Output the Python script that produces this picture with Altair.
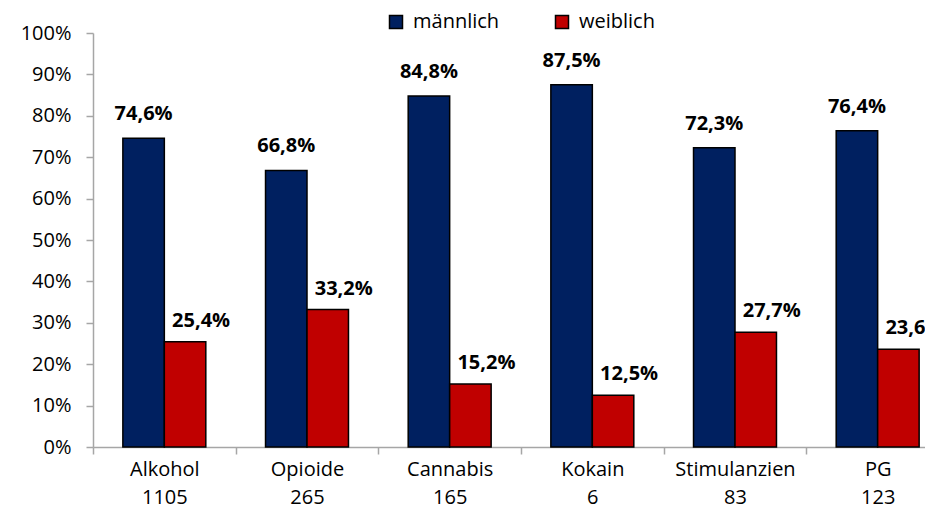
import altair as alt
import pandas as pd

categories = ["Alkohol", "Opioide", "Cannabis", "Kokain", "Stimulanzien", "PG"]
counts = ["1105", "265", "165", "6", "83", "123"]
maennlich = [74.6, 66.8, 84.8, 87.5, 72.3, 76.4]
weiblich = [25.4, 33.2, 15.2, 12.5, 27.7, 23.6]
series = ["männlich", "weiblich"]
colors = ["#002060", "#C00000"]
y_ticks = [0, 10, 20, 30, 40, 50, 60, 70, 80, 90, 100]

rows = []
for c, n, m, w in zip(categories, counts, maennlich, weiblich):
    key = f"{c}|{n}"
    rows.append({"cat": key, "sex": series[0], "v": m})
    rows.append({"cat": key, "sex": series[1], "v": w})
df = pd.DataFrame(rows)
cat_order = [f"{c}|{n}" for c, n in zip(categories, counts)]

FONT = "Open Sans"
GRAY = "#a6a6a6"

x_enc = alt.X(
    "cat:N",
    sort=cat_order,
    scale=alt.Scale(paddingInner=0, paddingOuter=0, range=[0, 856]),
    axis=alt.Axis(
        title=None,
        labelExpr="split(datum.label, '|')",
        labelAngle=0,
        labelFontSize=20,
        labelFont=FONT,
        labelColor="black",
        labelLineHeight=28,
        labelPadding=5,
        tickBand="extent",
        tickSize=7,
        tickColor=GRAY,
        domainColor=GRAY,
        domainWidth=1.5,
        tickWidth=1.5,
    ),
)
xoff = alt.XOffset("sex:N", sort=series, scale=alt.Scale(paddingInner=0, paddingOuter=0.72))
y_enc = alt.Y(
    "v:Q",
    scale=alt.Scale(domain=[0, 100], nice=False),
    axis=alt.Axis(
        title=None,
        values=y_ticks,
        labelExpr="datum.value + '%'",
        labelFontSize=20,
        labelFont=FONT,
        labelColor="black",
        labelPadding=15,
        tickSize=7,
        tickColor=GRAY,
        domainColor=GRAY,
        domainWidth=1.5,
        tickWidth=1.5,
        grid=False,
    ),
)

bars = alt.Chart(df).mark_bar(stroke="black", strokeWidth=1.5).encode(
    x=x_enc,
    xOffset=xoff,
    y=y_enc,
    color=alt.Color(
        "sex:N",
        sort=series,
        scale=alt.Scale(domain=series, range=colors),
        legend=alt.Legend(
            title=None,
            orient="none",
            legendX=293,
            legendY=-21,
            direction="horizontal",
            symbolType="square",
            symbolSize=169,
            symbolStrokeColor="black",
            symbolStrokeWidth=1.5,
            labelFontSize=20,
            labelFont=FONT,
            labelColor="black",
            labelOffset=7,
            columnPadding=52,
        ),
    ),
)

label_base = alt.Chart(df).transform_calculate(
    txt="replace(format(datum.v, '.1f'), '.', ',') + '%'"
)

labels_m = label_base.transform_filter(f"datum.sex == '{series[0]}'").mark_text(
    font=FONT, fontSize=20, fontWeight="bold", baseline="alphabetic", dy=-18, color="black"
).encode(x=alt.X("cat:N", sort=cat_order), xOffset=alt.XOffset("sex:N", sort=series), y="v:Q", text="txt:N")

labels_w = label_base.transform_filter(f"datum.sex == '{series[1]}'").mark_text(
    font=FONT, fontSize=20, fontWeight="bold", baseline="alphabetic", dx=16, dy=-15, color="black"
).encode(x=alt.X("cat:N", sort=cat_order), xOffset=alt.XOffset("sex:N", sort=series), y="v:Q", text="txt:N")

chart = alt.layer(bars, labels_m, labels_w).properties(
    width=832,
    height=414,
    padding={"left": 85, "top": 25, "right": 0, "bottom": 60},
    autosize=alt.AutoSizeParams(type="none"),
).configure_view(stroke=None)

chart.save("out.html", embed_options={"renderer": "svg", "actions": False})
